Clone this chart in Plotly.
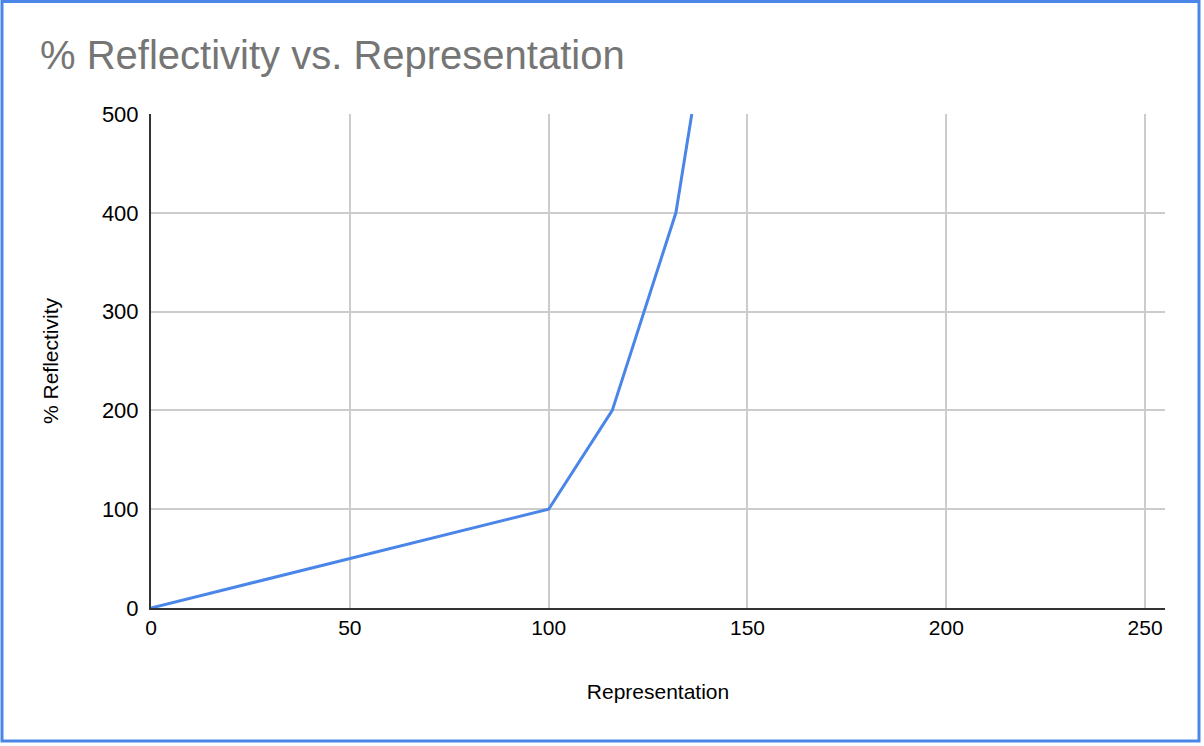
import plotly.graph_objects as go

# data
representation = [0, 100, 116, 132, 136]
reflectivity = [0, 100, 200, 400, 500]

x_ticks = [0, 50, 100, 150, 200, 250]
y_ticks = [0, 100, 200, 300, 400, 500]

W, H = 1204, 746
L, R, T, B = 151, 39, 114, 138
pw, ph = W - L - R, H - T - B

fig = go.Figure()
fig.add_trace(go.Scatter(
    x=representation, y=reflectivity, mode="lines",
    line=dict(color="#4a86e8", width=3),
    hoverinfo="x+y",
))

fig.update_layout(
    width=W, height=H,
    margin=dict(l=L, r=R, t=T, b=B),
    paper_bgcolor="white", plot_bgcolor="white",
    font=dict(family="Liberation Sans, Arial, sans-serif", color="#222222", size=21),
    title=dict(
        text="% Reflectivity vs. Representation",
        font=dict(size=40, color="#757575"),
        x=40 / W, xref="container", xanchor="left",
        y=1 - 55 / H, yref="container", yanchor="middle",
    ),
    showlegend=False,
    xaxis=dict(
        range=[0, 255], tickvals=x_ticks,
        showgrid=True, gridcolor="#cccccc", gridwidth=1.5,
        zeroline=False, showline=True, linecolor="#333333", linewidth=2,
        ticks="", tickfont=dict(size=21, color="#000000"),
        title=dict(text="Representation", font=dict(size=21, color="#000000"), standoff=46),
    ),
    yaxis=dict(
        range=[0, 500], tickvals=y_ticks,
        showgrid=True, gridcolor="#cccccc", gridwidth=1.5,
        zeroline=False, showline=True, linecolor="#333333", linewidth=2,
        ticks="", ticklabelstandoff=6, tickfont=dict(size=22, color="#000000"),
        title=dict(text="% Reflectivity", font=dict(size=21, color="#000000"), standoff=38),
    ),
)

# blue frame around the whole chart (pixel edges converted to paper units)
fig.add_shape(
    type="rect", xref="paper", yref="paper",
    x0=(2 - L) / pw, x1=(1199 - L) / pw,
    y0=(H - B - 741) / ph, y1=(H - B - 1.5) / ph,
    line=dict(color="#4a86e8", width=3), layer="above",
)

# drop the default body margin so the figure sits at the page corner
fig.write_html(
    "out.html",
    config={"displayModeBar": False},
    post_script="document.body.style.margin='0';",
)
